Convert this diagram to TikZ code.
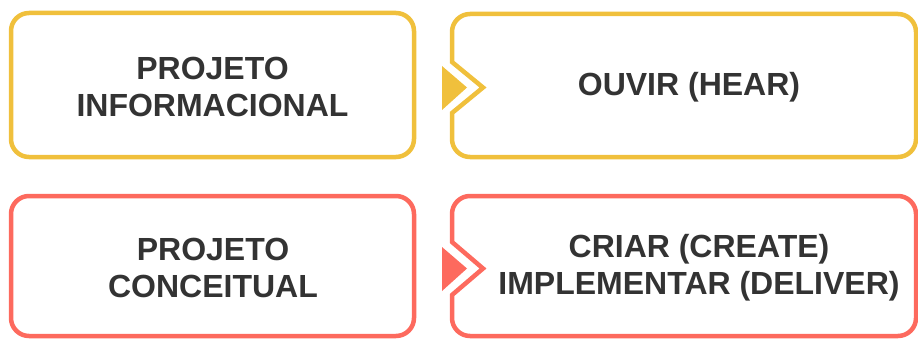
\documentclass[tikz,border=0pt]{standalone}
\usepackage{fontspec}
\setmainfont{Liberation Sans}
\definecolor{cyel}{HTML}{F0C03C}
\definecolor{cred}{HTML}{FD6A5E}
\definecolor{ctxt}{HTML}{333333}
\begin{document}
\begin{tikzpicture}[x=1pt,y=1pt,
  frame/.style={line width=4.5pt},
  lbl/.style={text=ctxt,font=\bfseries\fontsize{32}{37}\selectfont,align=center,inner sep=0pt}]
\useasboundingbox (0,0) rectangle (918,338);
% top left
\draw[frame,cyel,rounded corners=18pt] (11,325) rectangle (414,181);
% top right
\draw[frame,cyel] (452,276) -- (452,306) arc[start angle=180,end angle=90,radius=18]
  -- (898,324) arc[start angle=90,end angle=0,radius=18]
  -- (916,199) arc[start angle=0,end angle=-90,radius=18]
  -- (470,181) arc[start angle=270,end angle=180,radius=18]
  -- (452,225) -- (483,250.5) -- cycle;
\fill[cyel] (442,272) -- (467,250.5) -- (442,228) -- cycle;
% bottom left
\draw[frame,cred,rounded corners=18pt] (11,142) rectangle (414,2);
% bottom right
\draw[frame,cred] (452,96) -- (452,124) arc[start angle=180,end angle=90,radius=18]
  -- (898,142) arc[start angle=90,end angle=0,radius=18]
  -- (916,20) arc[start angle=0,end angle=-90,radius=18]
  -- (470,2) arc[start angle=270,end angle=180,radius=18]
  -- (452,43) -- (483,69.5) -- cycle;
\fill[cred] (442,91) -- (467,69.5) -- (442,47) -- cycle;
% texts
\node[lbl] (t1) at (212.5,251.5) {PROJETO\\INFORMACIONAL};
\node[lbl] (t2) at (689,251) {OUVIR (HEAR)};
\node[lbl] (t3) at (213,70.5) {PROJETO\\CONCEITUAL};
\node[lbl] (t4) at (699,70) {CRIAR (CREATE)\\IMPLEMENTAR (DELIVER)};
\end{tikzpicture}
\end{document}
